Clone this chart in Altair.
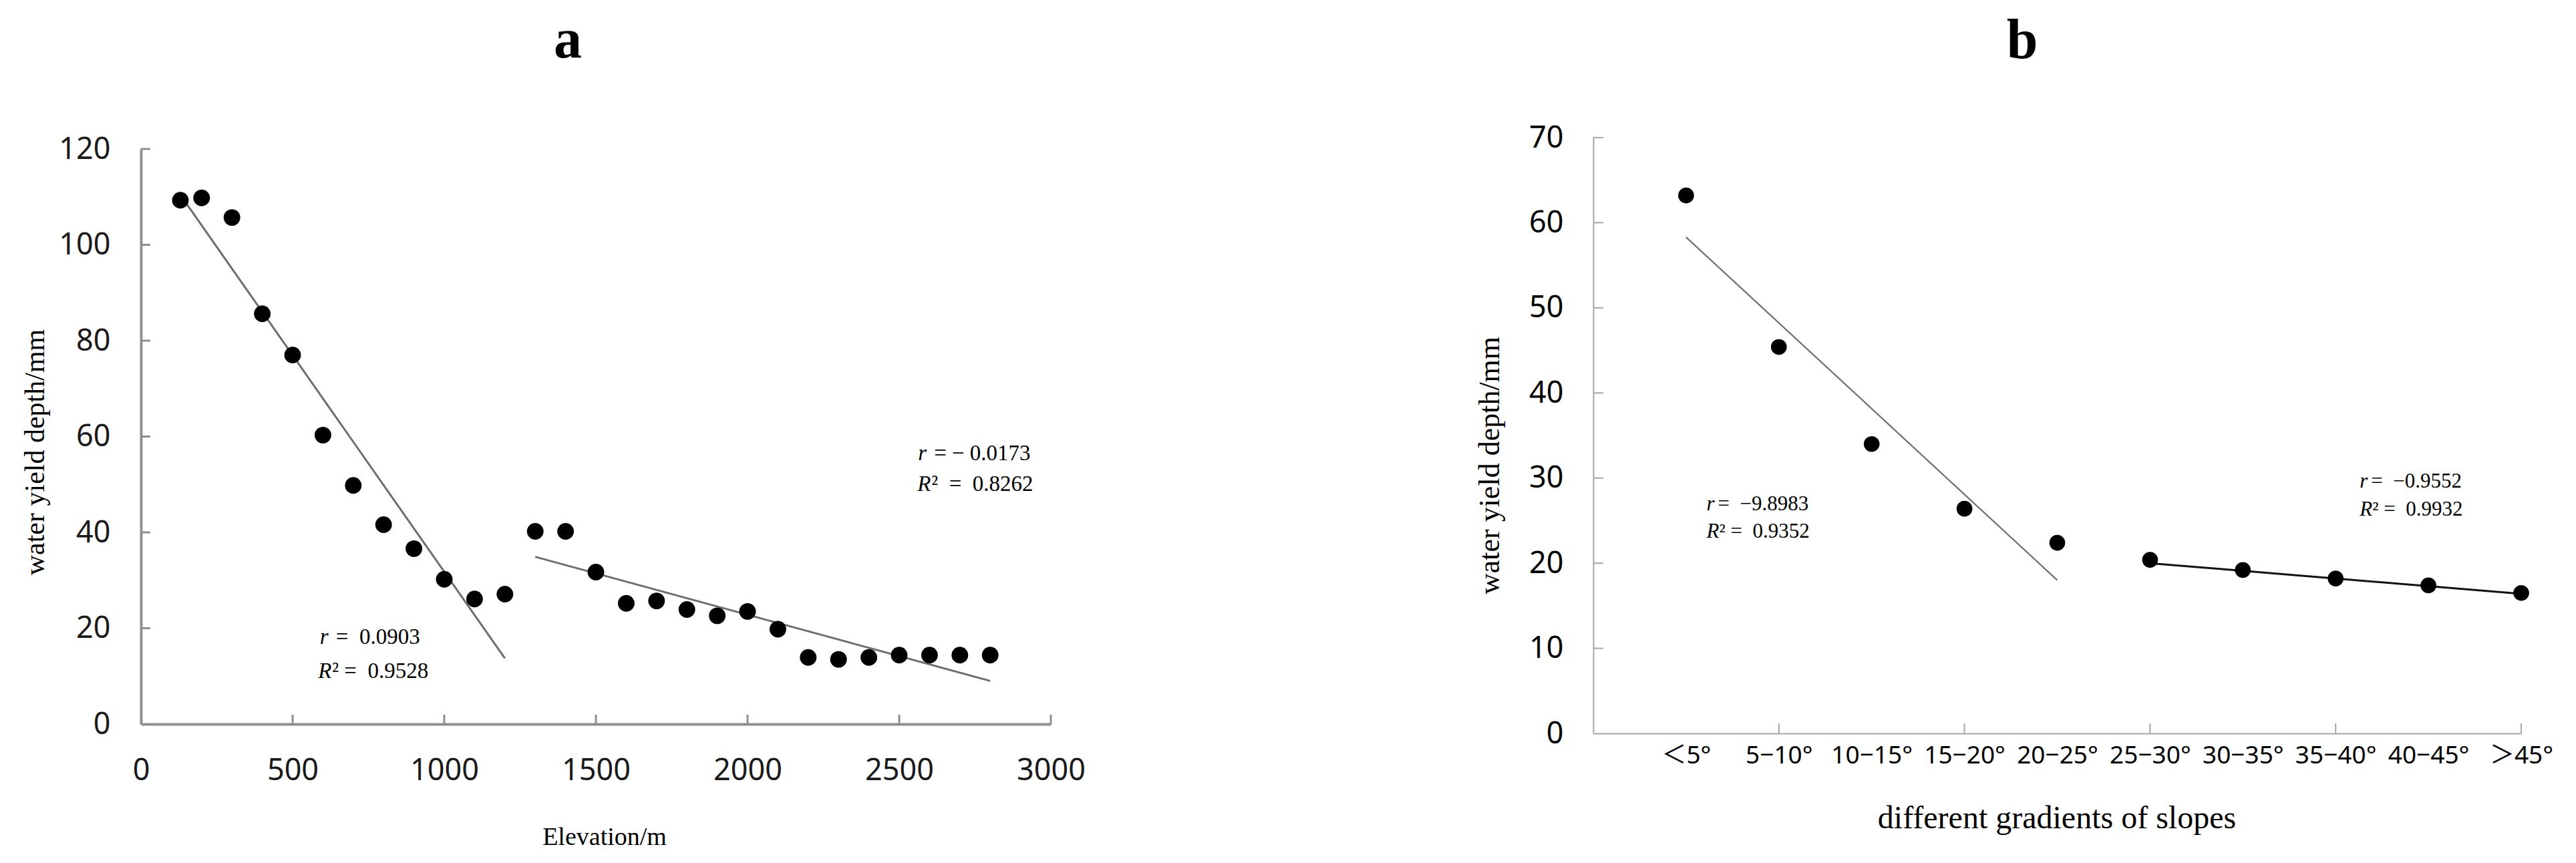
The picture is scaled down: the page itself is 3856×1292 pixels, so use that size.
import altair as alt
import pandas as pd

# ---------------- data: panel a (elevation) ----------------
elev = [130, 200, 300, 400, 500, 600, 700, 800, 900, 1000, 1100, 1200,
        1300, 1400, 1500, 1600, 1700, 1800, 1900, 2000, 2100, 2200, 2300,
        2400, 2500, 2600, 2700, 2800]
depth_a = [109.3, 109.8, 105.7, 85.6, 77.0, 60.3, 49.8, 41.6, 36.6, 30.2,
           26.1, 27.1, 40.2, 40.2, 31.7, 25.2, 25.7, 23.9, 22.6, 23.5, 19.8,
           13.9, 13.5, 13.9, 14.4, 14.4, 14.4, 14.4]
fit_a_x = [150, 1200, 1300, 2800]
fit_a_y = [108.6, 13.7, 34.9, 9.0]
fit_a_g = ["low", "low", "high", "high"]
xticks_a = [0, 500, 1000, 1500, 2000, 2500, 3000]
yticks_a = [0, 20, 40, 60, 80, 100, 120]
ann_a_it = ["r", "R", "r", "R"]
ann_a_rest = ["=\u00a0\u00a00.0903", "\u00b2\u00a0=\u00a0\u00a00.9528",
              "=\u00a0\u2212\u00a00.0173", "\u00b2\u00a0\u00a0=\u00a0\u00a00.8262"]
ann_a_x = [590, 584, 2562, 2560]
ann_a_y = [18.1, 11.0, 56.4, 50.0]

# ---------------- data: panel b (slope) ----------------
slope_labels = ["\uff1c5\u00b0", "5\u221210\u00b0", "10\u221215\u00b0", "15\u221220\u00b0",
                "20\u221225\u00b0", "25\u221230\u00b0", "30\u221235\u00b0", "35\u221240\u00b0",
                "40\u221245\u00b0", "\uff1e45\u00b0"]
depth_b = [63.2, 45.4, 34.0, 26.4, 22.4, 20.4, 19.2, 18.2, 17.4, 16.5]
fit_b_pos = [1, 5, 6, 10]
fit_b_y = [58.3, 18.0, 20.0, 16.4]
fit_b_g = ["gentle", "gentle", "steep", "steep"]
xticks_b = [2, 4, 6, 8, 10]
yticks_b = [0, 10, 20, 30, 40, 50, 60, 70]
ann_b_it = ["r", "R", "r", "R"]
ann_b_rest = ["=\u00a0\u00a0\u22129.8983", "\u00b2\u00a0=\u00a0\u00a00.9352",
              "=\u00a0\u00a0\u22120.9552", "\u00b2\u00a0=\u00a0\u00a00.9932"]
ann_b_x = [1.22, 1.22, 8.26, 8.26]
ann_b_y = [26.9, 23.7, 29.6, 26.3]

SERIF = "Liberation Serif"
SANS = "'Noto Sans', 'Noto Sans CJK SC', sans-serif"

# ---------------- panel a ----------------
WA, HA = 1362, 878
AX_A = "#8f8f8f"
xa_scale = alt.Scale(domain=[0, 3000], nice=False, zero=False)
ya_scale = alt.Scale(domain=[0, 120], range=[HA, 17], nice=False)

df_a = pd.DataFrame({"elev": elev, "depth": depth_a})
pts_a = alt.Chart(df_a).mark_circle(size=620, color="black", opacity=1).encode(
    x=alt.X("elev:Q", scale=xa_scale, title=None,
            axis=alt.Axis(values=xticks_a, ticks=False, tickSize=0, grid=False,
                          domainColor=AX_A, domainWidth=4, labelFont=SANS,
                          labelFontSize=45, labelColor="#1a1a1a", labelPadding=47,
                          labelFlush=False, labelOverlap=False, format="d")),
    y=alt.Y("depth:Q", scale=ya_scale, title=None,
            axis=alt.Axis(values=yticks_a, ticks=False, tickSize=0, grid=False,
                          domainColor=AX_A, domainWidth=4, labelFont=SANS,
                          labelFontSize=45, labelColor="#1a1a1a", labelPadding=46,
                          labelOverlap=False, format="d")),
)
fit_a = alt.Chart(pd.DataFrame({"x": fit_a_x, "y": fit_a_y, "g": fit_a_g})).mark_line(
    color="#6e6e6e", strokeWidth=3).encode(
    x=alt.X("x:Q", title=None), y=alt.Y("y:Q", title=None), detail="g:N")
xt_a = alt.Chart(pd.DataFrame({"v": xticks_a[1:]})).mark_rule(color=AX_A, strokeWidth=3).encode(
    x=alt.X("v:Q", title=None), y=alt.value(HA), y2=alt.value(HA - 14))
yt_a = alt.Chart(pd.DataFrame({"v": yticks_a[1:]})).mark_rule(color=AX_A, strokeWidth=3).encode(
    y=alt.Y("v:Q", title=None), x=alt.value(0), x2=alt.value(14))

df_ann_a = pd.DataFrame({"it": ann_a_it, "rest": ann_a_rest, "x": ann_a_x, "y": ann_a_y})


def ann_layers(df, fs, dx_r, dx_R):
    base = alt.Chart(df)
    common = dict(font=SERIF, fontSize=fs, align="left", baseline="middle", color="black")
    it = base.mark_text(fontStyle="italic", **common).encode(
        x=alt.X("x:Q", title=None), y=alt.Y("y:Q", title=None), text="it:N")
    rr = base.transform_filter(alt.datum.it == "r").mark_text(dx=dx_r, **common).encode(
        x=alt.X("x:Q", title=None), y=alt.Y("y:Q", title=None), text="rest:N")
    rR = base.transform_filter(alt.datum.it == "R").mark_text(dx=dx_R, **common).encode(
        x=alt.X("x:Q", title=None), y=alt.Y("y:Q", title=None), text="rest:N")
    return [it, rr, rR]


def px_text(txt, x, y, size, font=SERIF, weight="normal", angle=0):
    return alt.Chart(pd.DataFrame({"t": [txt]})).mark_text(
        font=font, fontSize=size, fontWeight=weight, angle=angle, align="center",
        baseline="alphabetic", color="black").encode(
        x=alt.value(x), y=alt.value(y), text="t:N")


anchor = alt.Chart(pd.DataFrame({"a": [0]})).mark_rule(opacity=0).encode(
    x=alt.value(-203), x2=alt.value(-201), y=alt.value(-198), y2=alt.value(-198))

panel_a = alt.layer(
    anchor, fit_a, xt_a, yt_a, pts_a,
    *ann_layers(df_ann_a, 33, 24, 21),
    px_text("a", 639, -120, 84, weight="bold"),
    px_text("Elevation/m", 694, 1059, 38),
    px_text("water yield depth/mm", -145, 471, 42, angle=270),
).properties(width=WA, height=HA)

# ---------------- panel b ----------------
WB, HB = 1389, 892
AX_B = "#a6a6a6"
xb_scale = alt.Scale(domain=[0, 10], nice=False, zero=False)
yb_scale = alt.Scale(domain=[0, 70], nice=False)
label_expr = "[" + ",".join("'" + s + "'" for s in slope_labels) + "][datum.value - 1]"

df_b = pd.DataFrame({"pos": list(range(1, len(slope_labels) + 1)), "label": slope_labels,
                     "depth": depth_b})
pts_b = alt.Chart(df_b).mark_circle(size=560, color="black", opacity=1).encode(
    x=alt.X("pos:Q", scale=xb_scale, title=None,
            axis=alt.Axis(values=list(range(1, len(slope_labels) + 1)), labelExpr=label_expr,
                          ticks=False, tickSize=0, grid=False, domainColor=AX_B,
                          domainWidth=2, labelFont=SANS, labelFontSize=37,
                          labelColor="black", labelPadding=15, labelFlush=False,
                          labelOverlap=False)),
    y=alt.Y("depth:Q", scale=yb_scale, title=None,
            axis=alt.Axis(values=yticks_b, ticks=False, tickSize=0, grid=False,
                          domainColor=AX_B, domainWidth=2, labelFont=SANS,
                          labelFontSize=45, labelColor="black", labelPadding=45,
                          labelOverlap=False, format="d")),
)
fit_b = alt.Chart(pd.DataFrame({"x": fit_b_pos, "y": fit_b_y, "g": fit_b_g})).mark_line().encode(
    x=alt.X("x:Q", title=None), y=alt.Y("y:Q", title=None), detail="g:N",
    color=alt.Color("g:N", scale=alt.Scale(domain=["gentle", "steep"],
                                           range=["#6e6e6e", "#111111"]), legend=None),
    strokeWidth=alt.StrokeWidth("g:N", scale=alt.Scale(domain=["gentle", "steep"],
                                                       range=[2.2, 3]), legend=None))
xt_b = alt.Chart(pd.DataFrame({"v": xticks_b})).mark_rule(color=AX_B, strokeWidth=2).encode(
    x=alt.X("v:Q", title=None), y=alt.value(HB), y2=alt.value(HB - 15))
yt_b = alt.Chart(pd.DataFrame({"v": yticks_b[1:]})).mark_rule(color=AX_B, strokeWidth=2).encode(
    y=alt.Y("v:Q", title=None), x=alt.value(0), x2=alt.value(15))

df_ann_b = pd.DataFrame({"it": ann_b_it, "rest": ann_b_rest, "x": ann_b_x, "y": ann_b_y})

panel_b = alt.layer(
    fit_b, xt_b, yt_b, pts_b,
    *ann_layers(df_ann_b, 31, 17, 19),
    px_text("b", 642, -119, 84, weight="bold"),
    px_text("different gradients of slopes", 694, 1034, 48),
    px_text("water yield depth/mm", -141, 491, 44, angle=270),
).properties(width=WB, height=HB)

chart = alt.hconcat(panel_a, panel_b, spacing=812, bounds="flush").properties(
    padding=0, background="white"
).configure_view(strokeWidth=0)

chart.save("out.html", embed_options={"renderer": "svg", "actions": False})
